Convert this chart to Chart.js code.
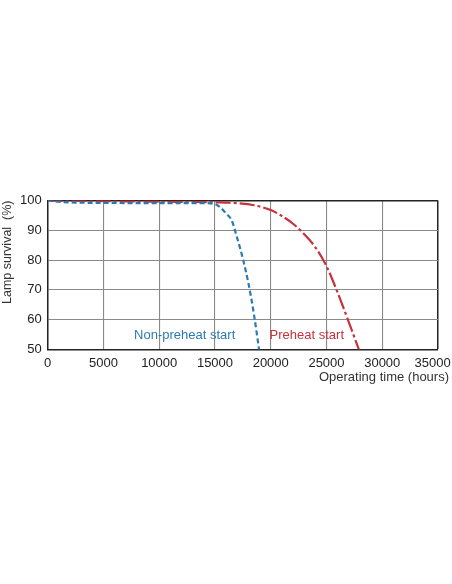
<!DOCTYPE html>
<html>
<head>
<meta charset="utf-8">
<script src="https://cdn.jsdelivr.net/npm/chart.js@4/dist/chart.umd.min.js"></script>
<style>
  html, body { margin: 0; padding: 0; background: #fff; }
  canvas { display: block; }
</style>
</head>
<body>
<canvas id="survival" width="452" height="584"></canvas>
<script>
// operating time (hours) and lamp survival (%)
const nonPreheatHours = [0, 1000, 2500, 5000, 10000, 14000, 15000, 15500, 16000, 16500, 17000, 17500, 18000, 18500, 19000];
const nonPreheatSurvival = [100, 99.6, 99.3, 99.2, 99.1, 99.1, 98.8, 97.6, 95.6, 93.3, 87.3, 80.5, 72.2, 61.7, 48.8];

const preheatHours = [0, 5000, 10000, 15000, 17000, 18500, 20000, 21000, 22000, 23000, 24000, 25000, 26000, 27000, 28000];
const preheatSurvival = [100, 99.8, 99.6, 99.4, 99.1, 98.4, 96.8, 94.8, 92.2, 88.7, 84.3, 78.0, 69.1, 59.2, 49.0];

const xTicks = [0, 5000, 10000, 15000, 20000, 25000, 30000, 35000];
const yTicks = [50, 60, 70, 80, 90, 100];

// curve labels placed in data coordinates
const curveLabels = [
  { text: "Non-preheat start", x: 7750, y: 54.6, color: "#2b7ab3" },
  { text: "Preheat start", x: 19900, y: 54.6, color: "#c7323b" },
];

const FONT = "'Liberation Sans', Arial, sans-serif";
const toPoints = (xs, ys) => xs.map((x, i) => ({ x: x, y: ys[i] }));

/**
 * Writes the curve names inside the plot area
 */
const curveLabelPlugin = {
  id: "curveLabels",
  afterDatasetsDraw(chart) {
    const { ctx, scales } = chart;
    ctx.save();
    ctx.font = "13px " + FONT;
    ctx.textAlign = "left";
    ctx.textBaseline = "middle";
    curveLabels.forEach((label) => {
      ctx.fillStyle = label.color;
      ctx.fillText(label.text, scales.x.getPixelForValue(label.x), scales.y.getPixelForValue(label.y));
    });
    ctx.restore();
  },
};

const renderChart = () => {
  const canvas = document.querySelector("#survival");
  const lastX = xTicks[xTicks.length - 1];

  new Chart(canvas, {
    type: "line",
    data: {
      datasets: [
        {
          label: "Non-preheat start",
          data: toPoints(nonPreheatHours, nonPreheatSurvival),
          borderColor: "#2b7ab3",
          borderWidth: 2.2,
          borderDash: [5, 3],
          pointRadius: 0,
          cubicInterpolationMode: "monotone",
        },
        {
          label: "Preheat start",
          data: toPoints(preheatHours, preheatSurvival),
          borderColor: "#c7323b",
          borderWidth: 2.2,
          borderDash: [15, 3, 3, 3],
          pointRadius: 0,
          cubicInterpolationMode: "monotone",
        },
      ],
    },
    options: {
      responsive: false,
      animation: false,
      layout: { padding: { top: 200.5, left: 0, right: 3, bottom: 198.9 } },
      plugins: {
        legend: { display: false },
        tooltip: { enabled: false },
        title: {
          display: true,
          text: "Operating time (hours)",
          position: "bottom",
          align: "end",
          padding: 0,
          color: "#333",
          font: { family: FONT, size: 13, weight: "normal" },
        },
      },
      scales: {
        x: {
          type: "linear",
          min: xTicks[0],
          max: lastX,
          afterBuildTicks: (scale) => { scale.ticks = xTicks.map((v) => ({ value: v })); },
          afterFit: (scale) => {
            scale.height = 20;
            // last label is pushed left so it stays inside the page, like the original
            scale.paddingRight = 14;
          },
          grid: {
            drawTicks: false,
            color: (c) => (c.tick && c.tick.value === lastX ? "#222" : "#8a8a8a"),
            lineWidth: (c) => (c.tick && c.tick.value === lastX ? 1.5 : 1.1),
          },
          border: { color: "#222", width: 1.5 },
          ticks: {
            padding: 6,
            color: "#222",
            maxRotation: 0,
            font: { family: FONT, size: 13 },
            callback: (v) => (v === lastX ? String(v) + "   " : String(v)),
          },
        },
        y: {
          min: yTicks[0],
          max: yTicks[yTicks.length - 1],
          afterBuildTicks: (scale) => { scale.ticks = yTicks.map((v) => ({ value: v })); },
          afterFit: (scale) => { scale.width = 47.7; },
          grid: {
            drawTicks: false,
            color: (c) => (c.tick && c.tick.value === 100 ? "#222" : "#8a8a8a"),
            lineWidth: (c) => (c.tick && c.tick.value === 100 ? 1.5 : 1.1),
          },
          border: { color: "#222", width: 1.5 },
          ticks: {
            padding: 6,
            color: "#222",
            font: { family: FONT, size: 13 },
          },
          title: {
            display: true,
            text: "Lamp survival  (%)",
            align: "end",
            padding: 0,
            color: "#333",
            font: { family: FONT, size: 12.5 },
          },
        },
      },
    },
    plugins: [curveLabelPlugin],
  });
};

window.addEventListener("load", renderChart);
</script>
</body>
</html>
